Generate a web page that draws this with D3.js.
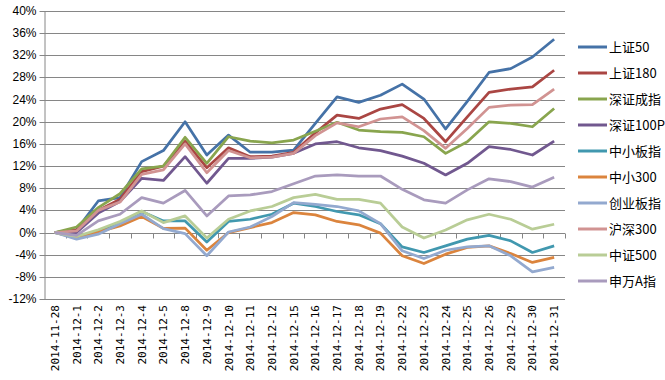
<!DOCTYPE html>
<html><head><meta charset="utf-8">
<script src="https://cdn.jsdelivr.net/npm/d3@7"></script>
<style>body{margin:0;background:#fff}</style>
</head><body>
<svg id="c" width="665" height="380"></svg>
<script>
const categories = ["2014-11-28","2014-12-1","2014-12-2","2014-12-3","2014-12-4","2014-12-5","2014-12-8","2014-12-9","2014-12-10","2014-12-11","2014-12-12","2014-12-15","2014-12-16","2014-12-17","2014-12-18","2014-12-19","2014-12-22","2014-12-23","2014-12-24","2014-12-25","2014-12-26","2014-12-29","2014-12-30","2014-12-31"];
const seriesNames = ["上证50","上证180","深证成指","深证100P","中小板指","中小300","创业板指","沪深300","中证500","申万A指"];
const sz50   = [0,0.5,5.7,6.3,12.8,14.8,20.0,14.0,17.6,14.5,14.5,14.9,19.7,24.5,23.5,24.8,26.8,24.1,18.7,23.7,28.9,29.6,31.7,34.9];
const sz180  = [0,0.5,4.0,6.0,11.0,12.0,16.5,11.7,15.3,13.7,13.8,14.5,18.0,21.2,20.6,22.3,23.1,20.6,16.4,20.9,25.3,25.9,26.3,29.3];
const szcz   = [0,1.0,4.5,7.0,11.5,12.0,17.2,12.5,17.3,16.5,16.2,16.7,18.3,19.9,18.5,18.2,18.1,17.3,14.3,16.4,20.0,19.7,19.1,22.4];
const sz100p = [0,0,3.5,5.6,9.8,9.4,13.7,8.9,13.4,13.4,13.6,14.3,16.0,16.4,15.3,14.8,13.8,12.5,10.4,12.5,15.5,15.0,14.0,16.5];
const zxb    = [0,-0.8,0.3,1.8,3.8,2.1,2.1,-1.7,2.0,2.4,3.3,5.3,4.7,3.8,3.2,1.6,-2.6,-3.6,-2.4,-1.2,-0.5,-1.5,-3.6,-2.4];
const zx300  = [0,-1.0,0.1,1.2,2.9,0.75,0.8,-3.2,0,0.9,1.8,3.6,3.2,2.0,1.4,-0.1,-4.2,-5.6,-3.9,-2.7,-2.4,-3.8,-5.4,-4.5];
const cyb    = [0,-1.2,-0.3,1.6,3.3,0.7,-0.2,-4.2,0.1,1.0,2.9,5.4,5.1,4.7,3.9,1.6,-3.3,-4.7,-3.2,-2.6,-2.4,-4.2,-7.1,-6.3];
const hs300  = [0,0.3,4.0,5.5,10.5,11.3,16.0,10.8,14.8,13.5,13.6,14.3,17.5,19.8,19.1,20.5,20.9,18.4,15.2,18.8,22.6,23.0,23.1,25.9];
const zz500  = [0,-0.7,0.5,2.0,3.9,1.8,3.0,-1.0,2.4,3.9,4.7,6.3,6.9,6.0,6.0,5.3,1.0,-1.0,0.45,2.3,3.3,2.4,0.6,1.5];
const swa    = [0,-0.5,2.1,3.3,6.3,5.3,7.6,3.0,6.6,6.8,7.4,8.8,10.2,10.4,10.2,10.2,7.8,5.9,5.3,7.7,9.7,9.2,8.2,10.0];
const yTicks = [-12,-8,-4,0,4,8,12,16,20,24,28,32,36,40];
const colors = ["#4572A7","#AA4643","#89A54E","#71588F","#4198AF","#DB843D","#93A9CF","#D19392","#B9CD96","#A99BBD"];
const allSeries = [sz50,sz180,szcz,sz100p,zxb,zx300,cyb,hs300,zz500,swa];

const svg = d3.select("#c");
const pLeft = 44, pRight = 565, pTop = 11, pBottom = 299;
const x = d3.scaleBand().domain(categories).range([pLeft, pRight]);
const y = d3.scaleLinear().domain([-12, 40]).range([pBottom, pTop]);
const grid = "#868686";
const cx = d => x(d) + x.bandwidth()/2;

// gridlines
svg.append("g").selectAll("line").data(yTicks).join("line")
  .attr("x1", pLeft).attr("x2", pRight)
  .attr("y1", d => Math.round(y(d))+0.5).attr("y2", d => Math.round(y(d))+0.5)
  .attr("stroke", grid).attr("stroke-width", 1);

// y axis
const ya = svg.append("g").attr("transform", `translate(${pLeft+0.5},0)`)
  .call(d3.axisLeft(y).tickValues(yTicks).tickSize(5).tickSizeOuter(0).tickFormat(d => d + "%"));
ya.select(".domain").attr("stroke", grid);
ya.selectAll(".tick line").attr("stroke", grid);
ya.selectAll(".tick").attr("transform", d => `translate(0,${Math.round(y(d))+0.5})`);
ya.selectAll("text").attr("font-family", "Arial, 'Liberation Sans', sans-serif").attr("font-size", 12).attr("fill", "#000").attr("x", -8);

// x axis at zero: tick marks at category boundaries
const y0 = Math.round(y(0)) + 0.5;
svg.append("g").selectAll("line").data(categories).join("line")
  .attr("x1", d => Math.round(x(d) + x.step()) + 0.5)
  .attr("x2", d => Math.round(x(d) + x.step()) + 0.5)
  .attr("y1", y0).attr("y2", y0 + 5).attr("stroke", grid);

// x labels (rotated)
svg.append("g").selectAll("text").data(categories).join("text")
  .attr("transform", d => `translate(${cx(d)+4},${pBottom+6}) rotate(-90)`)
  .attr("text-anchor", "end")
  .attr("font-family", "'DejaVu Sans Mono', monospace").attr("font-size", 11)
  .attr("fill", "#000").text(d => d);

// lines
const line = d3.line().x((d,i) => cx(categories[i])).y(d => y(d));
svg.append("g").selectAll("path").data(allSeries).join("path")
  .attr("d", d => line(d)).attr("fill", "none")
  .attr("stroke", (d,i) => colors[i]).attr("stroke-width", 2.75)
  .attr("stroke-linejoin", "round");

// legend
const lg = svg.append("g").selectAll("g").data(seriesNames).join("g")
  .attr("transform", (d,i) => `translate(578,${47 + i*26})`);
lg.append("line").attr("x1", 0).attr("x2", 29).attr("y1", 0).attr("y2", 0)
  .attr("stroke", (d,i) => colors[i]).attr("stroke-width", 3);
lg.append("text").attr("x", 31).attr("y", 0).attr("dy", "0.36em")
  .attr("font-family", "'Noto Sans CJK SC', sans-serif").attr("font-size", 13)
  .attr("fill", "#000").text(d => d);
</script>
</body></html>
